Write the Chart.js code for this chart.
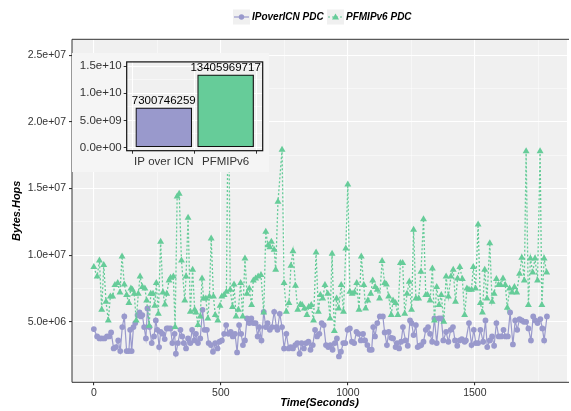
<!DOCTYPE html>
<html>
<head>
<meta charset="utf-8">
<script src="https://cdn.jsdelivr.net/npm/chart.js@4.4.1/dist/chart.umd.min.js"></script>
<style>
  html, body { margin: 0; padding: 0; background: #fff; overflow: hidden; }
  #wrap { position: relative; width: 571px; height: 411px; }
  #main { position: absolute; left: 0; top: 0; }
  #inset { position: absolute; left: 72px; top: 53px; background: #f5f5f5; }
</style>
</head>
<body>
<div id="wrap">
  <canvas id="main" width="571" height="411"></canvas>
  <canvas id="inset" width="197" height="119"></canvas>
</div>
<script>
// series names
const seriesNames = ['IPoverICN PDC', 'PFMIPv6 PDC'];

// IPoverICN PDC: time (s) and Bytes.Hops (millions)
const ipTime = [
  0,13,22,31,42,52,61,68,78,87,96,104,112,120,129,138,143,149,156,163,172,180,185,191,198,205,211,219,228,237,244,250,257,263,271,279,287,293,302,309,318,323,331,341,
  348,354,363,371,380,387,396,402,410,419,428,436,445,452,461,469,478,487,495,504,513,521,530,539,547,556,564,572,580,587,595,603,612,620,628,637,645,651,660,669,677,684,693,701,710,719,
  723,732,741,749,758,767,775,784,793,801,810,818,827,836,845,853,862,871,879,888,897,905,914,923,931,940,949,957,965,973,982,990,999,1008,1016,1025,1034,1042,1051,1060,1068,1077,1086,
  1094,1100,1107,1116,1126,1138,1145,1154,1161,1171,1178,1188,1194,1202,1210,1217,1227,1236,1245,1251,1259,1268,1275,1283,1289,1298,1307,1316,1324,1332,1341,1350,1359,1368,1376,1387,1396,1405,1414,1422,1431,1440,1449,1460,
  1465,1477,1487,1496,1504,1513,1522,1533,1542,1549,1559,1568,1576,1585,1594,1604,1613,1621,1630,1639,1650,1659,1667,1676,1685,1693,1702,1711,1721,1730,1738,1747,1758,1766,1773,1784
];
const ipValues = [
  4.45,3.9,3.75,3.75,3.75,3.9,3.9,4.2,3.0,3.1,3.6,2.8,4.6,5.4,2.8,2.8,4.4,2.8,4.6,4.9,5.5,5.7,5.4,5.5,4.6,3.75,6.0,4.6,3.4,3.9,5.1,4.4,3.1,4.25,4.1,3.7,4.5,4.5,4.5,3.4,4.1,2.6,3.4,4.4,
  3.9,3.4,3.0,3.75,3.4,4.4,3.6,4.1,3.4,3.75,5.9,4.4,4.4,3.4,3.25,2.75,3.4,3.0,3.5,3.6,4.1,4.75,4.1,4.25,3.9,4.1,2.7,4.75,4.1,3.25,3.6,5.25,4.9,5.25,4.9,4.9,3.9,4.6,3.6,5.75,4.6,4.9,4.4,4.6,5.75,4.6,
  4.4,5.6,4.6,3.0,4.1,3.0,3.1,3.0,3.25,3.4,2.6,3.4,3.0,3.4,3.5,2.9,3.25,4.4,3.9,4.1,4.9,4.75,3.25,3.1,3.25,2.9,3.4,3.75,2.4,2.75,3.4,3.4,4.4,4.5,3.5,3.4,4.25,4.1,3.6,4.1,3.6,3.25,2.9,
  2.9,4.6,3.9,4.9,5.4,5.4,4.2,3.25,4.25,3.8,3.75,3.1,3.4,3.0,3.5,4.6,3.6,3.2,5.1,4.9,4.0,4.75,3.1,3.2,3.25,3.5,4.4,4.6,4.1,3.5,5.25,3.4,5.25,5.25,3.6,4.25,3.5,4.4,4.6,3.6,3.2,3.6,3.7,3.5,
  3.6,4.9,3.25,4.4,3.4,3.4,4.4,3.5,5.1,3.1,3.6,3.9,3.2,4.9,3.9,3.9,4.4,3.9,3.9,5.7,3.3,5.1,4.4,5.2,5.1,5.0,5.0,4.5,3.6,5.4,5.1,4.9,5.2,4.5,3.6,5.4
];

// PFMIPv6 PDC: time (s) and Bytes.Hops (millions)
const pfTime = [
  0,13,22,31,39,48,57,65,74,83,94,103,111,120,129,138,146,152,159,167,175,182,191,201,208,218,224,233,240,246,254,263,272,280,287,296,302,313,320,328,336,345,
  358,363,371,380,389,397,402,410,419,426,432,441,449,455,462,471,478,488,497,504,513,522,530,537,546,552,560,569,578,586,595,603,612,621,628,637,647,658,669,677,686,693,699,710,716,725,
  741,749,758,768,776,784,794,803,813,820,829,839,846,856,865,875,884,892,901,910,921,930,938,947,956,964,974,983,992,1000,1008,1017,1026,1035,1044,1053,1063,1070,1079,1090,1098,
  1108,1116,1125,1135,1145,1152,1161,1171,1178,1188,1197,1207,1216,1224,1233,1242,1251,1259,1268,1279,1288,1298,1307,1314,1324,1333,1341,1350,1359,1368,1378,1387,1396,1406,1415,1424,1432,1441,1451,1460,1469,
  1477,1487,1494,1503,1513,1522,1530,1539,1548,1559,1568,1576,1585,1594,1602,1611,1620,1628,1637,1647,1656,1665,1676,1685,1695,1702,1711,1719,1728,1737,1747,1757,1764,1773,1783
];
const pfValues = [
  9.1,8.4,9.6,5.9,9.25,6.5,5.1,6.9,6.9,7.75,7.9,7.2,9.9,7.8,7.0,6.4,7.5,7.4,7.1,5.1,7.1,8.4,7.6,7.5,6.6,4.7,7.1,7.1,6.2,7.9,5.6,11.0,7.2,6.3,7.1,8.1,8.3,8.4,4.6,14.4,14.6,9.6,
  6.6,8.4,12.8,5.75,8.9,5.9,5.7,4.75,5.4,8.25,6.75,6.75,5.25,6.9,11.25,6.9,5.5,5.1,6.2,6.9,7.0,7.25,23.5,7.4,6.1,7.8,5.4,5.9,7.9,5.4,9.75,7.1,7.5,6.25,8.1,8.25,8.4,8.5,5.7,11.75,10.75,10.6,11.0,10.4,8.9,14.0,
  17.9,7.9,5.75,6.4,9.2,10.3,7.7,5.9,6.3,6.25,6.0,5.5,6.1,6.25,5.1,10.2,5.75,7.0,6.75,7.75,7.1,5.25,10.1,4.3,6.75,6.0,7.75,5.75,10.5,15.3,7.25,7.1,7.2,7.9,5.9,9.9,7.75,6.0,6.6,7.1,8.1,
  7.6,7.4,6.75,9.55,7.9,7.8,6.9,5.5,6.6,6.4,5.5,9.4,9.4,5.6,7.1,8.0,5.9,11.9,6.75,6.75,8.75,12.7,7.0,7.0,6.6,9.0,5.1,7.6,6.25,7.0,5.0,8.4,6.9,8.4,8.9,6.5,8.25,9.1,8.2,5.5,7.5,
  7.4,7.4,9.1,7.5,12.3,6.4,5.7,8.9,6.75,10.9,6.5,7.1,8.2,7.75,7.75,8.25,7.75,6.05,7.5,7.2,7.6,7.2,8.6,9.8,8.1,17.8,6.25,9.75,8.7,9.75,8.1,17.8,6.25,9.75,8.7
];

// axis ticks (major + minor gridlines)
const xTicks = [0, 250, 500, 750, 1000, 1250, 1500, 1750];
const xMajor = [0, 500, 1000, 1500];
const yTicks = [2.5e6, 5e6, 7.5e6, 1e7, 1.25e7, 1.5e7, 1.75e7, 2e7, 2.25e7, 2.5e7];
const yMajor = [5e6, 1e7, 1.5e7, 2e7, 2.5e7];

// inset bar chart (total Bytes.Hops)
const barCats = ['IP over ICN', 'PFMIPv6'];
const barTotals = [7300746259, 13405969717];
const insetTicks = [0, 2.5e9, 5e9, 7.5e9, 1e10, 1.25e10, 1.5e10];
const insetMajor = [0, 5e9, 1e10, 1.5e10];

const PURPLE = '#9999CC';
const GREEN = '#66CC99';
const FONT = '"Liberation Sans", Arial, Helvetica, sans-serif';
const TXT = '#333333';

function sci(v) {
    const parts = v.toExponential(1).split('e');
    const n = Number(parts[1]);
    return parts[0] + 'e' + (n < 0 ? '-' : '+') + String(Math.abs(n)).padStart(2, '0');
}

const panelBg = {
    id: 'panelBg',
    beforeDraw(chart, args, opts) {
        const a = chart.chartArea, ctx = chart.ctx;
        ctx.save();
        ctx.fillStyle = opts.color;
        ctx.fillRect(a.left, a.top, a.right - a.left, a.bottom - a.top);
        ctx.restore();
    }
};

const mainDecor = {
    id: 'mainDecor',
    afterDraw(chart) {
        const a = chart.chartArea, ctx = chart.ctx;
        ctx.save();
        // panel border (right side is off-canvas)
        ctx.strokeStyle = '#333';
        ctx.lineWidth = 1;
        ctx.beginPath();
        ctx.moveTo(a.right + 2, a.top);
        ctx.lineTo(a.left, a.top);
        ctx.lineTo(a.left, a.bottom);
        ctx.lineTo(a.right + 2, a.bottom);
        ctx.stroke();

        // axis titles
        ctx.fillStyle = '#000';
        ctx.font = 'italic bold 11px ' + FONT;
        ctx.textAlign = 'center';
        ctx.textBaseline = 'middle';
        ctx.fillText('Time(Seconds)', (a.left + a.right) / 2, 403);
        ctx.translate(17, (a.top + a.bottom) / 2);
        ctx.rotate(-Math.PI / 2);
        ctx.fillText('Bytes.Hops', 0, 0);
        ctx.restore();

        // legend
        ctx.save();
        const keys = [
            { x: 233, color: PURPLE, dash: [], shape: 'circle' },
            { x: 327, color: GREEN, dash: [2, 2], shape: 'triangle' }
        ];
        const ly = 17;
        ctx.font = 'italic bold 10px ' + FONT;
        ctx.textBaseline = 'middle';
        ctx.textAlign = 'left';
        keys.forEach((k, i) => {
            ctx.fillStyle = '#f0f0f0';
            ctx.fillRect(k.x, ly - 7.5, 17, 15);
            ctx.strokeStyle = k.color;
            ctx.lineWidth = 1.2;
            ctx.setLineDash(k.dash);
            ctx.beginPath();
            ctx.moveTo(k.x + 1, ly);
            ctx.lineTo(k.x + 16, ly);
            ctx.stroke();
            ctx.setLineDash([]);
            ctx.fillStyle = k.color;
            ctx.beginPath();
            if (k.shape === 'circle') {
                ctx.arc(k.x + 8.5, ly, 2.7, 0, Math.PI * 2);
            } else {
                ctx.moveTo(k.x + 8.5, ly - 3.6);
                ctx.lineTo(k.x + 12, ly + 2.5);
                ctx.lineTo(k.x + 5, ly + 2.5);
                ctx.closePath();
            }
            ctx.fill();
            ctx.fillStyle = '#000';
            ctx.fillText(seriesNames[i], k.x + 19, ly);
        });
        ctx.restore();
    }
};

const mainChart = new Chart(document.getElementById('main').getContext('2d'), {
    type: 'line',
    data: {
        datasets: [
            {
                label: seriesNames[1],
                data: pfTime.map((t, i) => ({ x: t, y: pfValues[i] * 1e6 })),
                borderColor: GREEN,
                borderDash: [2, 2],
                borderWidth: 1.3,
                pointStyle: 'triangle',
                pointRadius: 4,
                pointBackgroundColor: GREEN,
                pointBorderColor: GREEN,
                pointBorderWidth: 0,
                tension: 0,
                order: 0
            },
            {
                label: seriesNames[0],
                data: ipTime.map((t, i) => ({ x: t, y: ipValues[i] * 1e6 })),
                borderColor: PURPLE,
                borderWidth: 1.2,
                pointStyle: 'circle',
                pointRadius: 2.9,
                pointBackgroundColor: PURPLE,
                pointBorderColor: PURPLE,
                pointBorderWidth: 0,
                tension: 0,
                order: 1
            }
        ]
    },
    options: {
        responsive: false,
        animation: false,
        events: [],
        layout: { padding: { top: 39.3, right: 0, left: 0, bottom: 0 } },
        plugins: {
            legend: { display: false },
            tooltip: { enabled: false },
            panelBg: { color: '#f0f0f0' }
        },
        scales: {
            x: {
                type: 'linear',
                min: -86,
                max: 1863,
                afterBuildTicks: s => { s.ticks = xTicks.map(v => ({ value: v })); },
                afterFit: s => { s.height = 28.7; },
                ticks: {
                    autoSkip: false,
                    maxRotation: 0,
                    padding: 2,
                    color: TXT,
                    font: { family: FONT, size: 10.5 },
                    callback: v => xMajor.includes(v) ? String(v) : ''
                },
                grid: {
                    color: '#ffffff',
                    lineWidth: c => xMajor.includes(c.tick && c.tick.value) ? 1.1 : 0.5,
                    tickColor: c => xMajor.includes(c.tick && c.tick.value) ? '#333' : 'rgba(0,0,0,0)',
                    tickLength: 3
                },
                border: { display: false }
            },
            y: {
                type: 'linear',
                min: 0.46e6,
                max: 26.19e6,
                afterBuildTicks: s => { s.ticks = yTicks.map(v => ({ value: v })); },
                afterFit: s => { s.width = 72; },
                ticks: {
                    autoSkip: false,
                    padding: 3,
                    color: TXT,
                    font: { family: FONT, size: 10.5 },
                    callback: v => yMajor.includes(v) ? sci(v) : ''
                },
                grid: {
                    color: '#ffffff',
                    lineWidth: c => yMajor.includes(c.tick && c.tick.value) ? 1.1 : 0.5,
                    tickColor: c => yMajor.includes(c.tick && c.tick.value) ? '#333' : 'rgba(0,0,0,0)',
                    tickLength: 3
                },
                border: { display: false }
            }
        }
    },
    plugins: [panelBg, mainDecor]
});

const insetDecor = {
    id: 'insetDecor',
    afterDatasetsDraw(chart) {
        const a = chart.chartArea, ctx = chart.ctx;
        ctx.save();
        // value labels above bars
        ctx.fillStyle = '#000';
        ctx.font = '11.5px ' + FONT;
        ctx.textAlign = 'center';
        ctx.textBaseline = 'bottom';
        chart.getDatasetMeta(0).data.forEach((bar, i) => {
            ctx.fillText(String(barTotals[i]), bar.x, bar.y - 1);
        });
        // panel border
        ctx.strokeStyle = '#111';
        ctx.lineWidth = 1.2;
        ctx.strokeRect(a.left, a.top, a.right - a.left, a.bottom - a.top);
        ctx.restore();
    }
};

const insetChart = new Chart(document.getElementById('inset').getContext('2d'), {
    type: 'bar',
    data: {
        datasets: [{
            data: barCats.map((c, i) => ({ x: i + 1, y: barTotals[i] })),
            backgroundColor: [PURPLE, GREEN],
            borderColor: '#111',
            borderWidth: 1.2,
            borderSkipped: false,
            barThickness: 56
        }]
    },
    options: {
        responsive: false,
        animation: false,
        events: [],
        layout: { padding: { top: 6.3, right: 6.3, left: 0, bottom: 0 } },
        plugins: {
            legend: { display: false },
            tooltip: { enabled: false },
            panelBg: { color: '#f0f0f0' }
        },
        scales: {
            x: {
                type: 'linear',
                min: 0.4,
                max: 2.6,
                offset: false,
                afterBuildTicks: s => { s.ticks = [{ value: 1 }, { value: 2 }]; },
                afterFit: s => { s.height = 21.3; },
                ticks: {
                    autoSkip: false,
                    maxRotation: 0,
                    padding: 1,
                    color: TXT,
                    font: { family: FONT, size: 11.5 },
                    callback: v => barCats[v - 1]
                },
                grid: { color: '#ffffff', lineWidth: 1, tickColor: '#333', tickLength: 3 },
                border: { display: false }
            },
            y: {
                min: -6.1e8,
                max: 1.58e10,
                afterBuildTicks: s => { s.ticks = insetTicks.map(v => ({ value: v })); },
                afterFit: s => { s.width = 54.7; },
                ticks: {
                    autoSkip: false,
                    padding: 2,
                    color: TXT,
                    font: { family: FONT, size: 11.5 },
                    callback: v => insetMajor.includes(v) ? sci(v) : ''
                },
                grid: {
                    color: '#ffffff',
                    lineWidth: c => insetMajor.includes(c.tick && c.tick.value) ? 1 : 0.5,
                    tickColor: c => insetMajor.includes(c.tick && c.tick.value) ? '#333' : 'rgba(0,0,0,0)',
                    tickLength: 3
                },
                border: { display: false }
            }
        }
    },
    plugins: [panelBg, insetDecor]
});
</script>
</body>
</html>
